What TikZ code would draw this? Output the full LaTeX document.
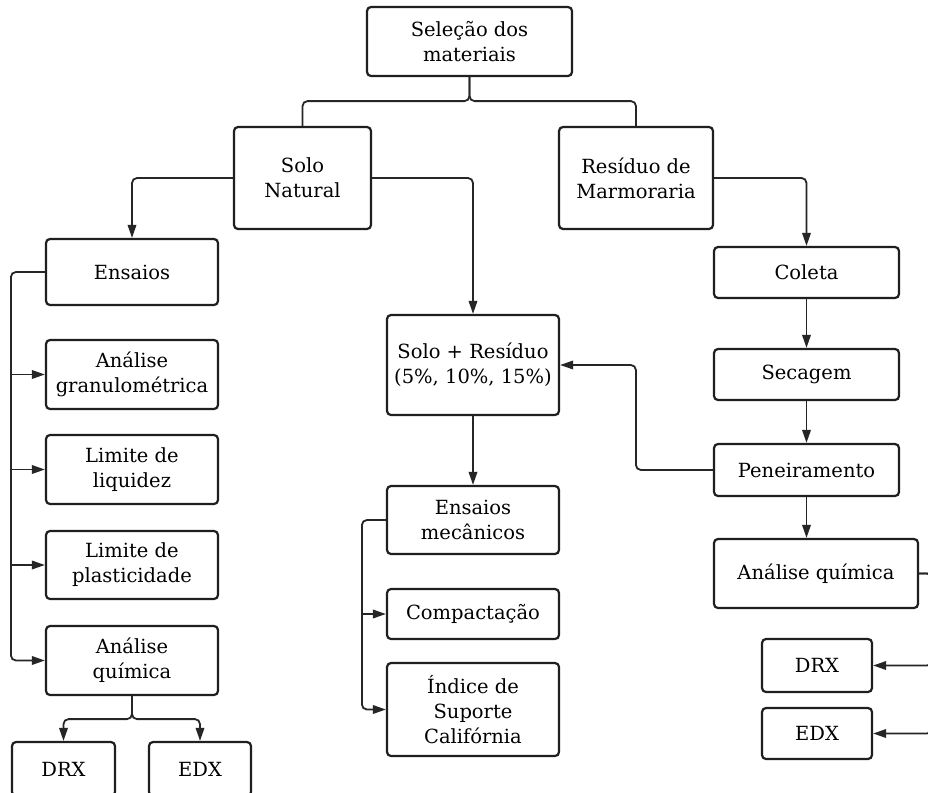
\documentclass[tikz,border=0pt]{standalone}
\usepackage{fontspec}
\setmainfont{DejaVu Serif}
\usepackage{tikz}
\usetikzlibrary{arrows.meta}
\usetikzlibrary{calc}
\newcommand{\MTLineWidth}{2.2pt}
\newcommand{\MTBox}[5]{
  \node [mtbox, minimum width=#3, minimum height=#4] (#1) at #2 {#5};
}
\newcommand{\MTArrow}[2]{
  \draw [mtline, -{Triangle[length=13pt,width=8.5pt]}] #1 #2;
}
\newcommand{\MTLink}[2]{
  \draw [mtline] #1 #2;
}

\begin{document}
\begin{tikzpicture}[x=1pt,y=-1pt,
  mtbox/.style={draw=black!88, line width=\MTLineWidth, rounded corners=4pt,
    align=center, inner sep=2pt, text=black,
    font=\fontsize{19.5}{25}\selectfont},
  mtline/.style={draw=black!85, line width=1.8pt, rounded corners=5pt}]
\useasboundingbox [fill=white] (0,0) rectangle (928,792);

\MTBox{sel}{(469.5,41.5)}{205pt}{69pt}{Seleção dos\\materiais}
\MTBox{solo}{(302.5,178)}{137pt}{102pt}{Solo\\Natural}
\MTBox{res}{(636,178)}{154pt}{102pt}{Resíduo de\\Marmoraria}

% solo natural
\MTBox{ens}{(132,272)}{172pt}{66pt}{Ensaios}
\MTBox{gran}{(132,374.5)}{172pt}{69pt}{Análise\\granulométrica}
\MTBox{liq}{(132,469.5)}{172pt}{69pt}{Limite de\\liquidez}
\MTBox{plas}{(132,565)}{172pt}{68pt}{Limite de\\plasticidade}
\MTBox{aqL}{(132,660.5)}{172pt}{69pt}{Análise\\química}
\MTBox{drxL}{(63.5,769)}{103pt}{54pt}{DRX}
\MTBox{edxL}{(200,769)}{102pt}{54pt}{EDX}

% mistura
\MTBox{mix}{(473,365)}{172pt}{100pt}{Solo + Resíduo\\(5\%, 10\%, 15\%)}
\MTBox{mec}{(473,520)}{172pt}{68pt}{Ensaios\\mecânicos}
\MTBox{comp}{(473,614)}{172pt}{50pt}{Compactação}
\MTBox{isc}{(473,709.5)}{172pt}{93pt}{Índice de\\Suporte\\Califórnia}

% residuo
\MTBox{col}{(806.5,272.5)}{185pt}{51pt}{Coleta}
\MTBox{sec}{(806.5,374.5)}{185pt}{51pt}{Secagem}
\MTBox{pen}{(806.5,470)}{185pt}{52pt}{Peneiramento}
\MTBox{aqR}{(816,573.5)}{204pt}{69pt}{Análise química}
\MTBox{drxR}{(817,665.5)}{110pt}{53pt}{DRX}
\MTBox{edxR}{(817,733.5)}{110pt}{51pt}{EDX}

\coordinate (ensT) at ($(ens.west) +(-34,0)$);
\coordinate (mecT) at ($(mec.west) +(-24,0)$);

\MTLink{(sel.south) -- ++(0,24)}{-| (solo.north)}
\MTLink{(sel.south) -- ++(0,24)}{-| (res.north)}
\MTArrow{(solo.west)}{-| (ens.north)}
\MTArrow{(solo.east)}{-| (mix.north)}
\MTArrow{(res.east)}{-| (col.north)}

\MTArrow{(ens.west) -- (ensT)}{|- (aqL.west)}
\MTArrow{(ensT |- gran.west)}{-- (gran.west)}
\MTArrow{(ensT |- liq.west)}{-- (liq.west)}
\MTArrow{(ensT |- plas.west)}{-- (plas.west)}
\MTArrow{(aqL.south) -- ++(0,23)}{-| (drxL.north)}
\MTArrow{(aqL.south) -- ++(0,23)}{-| (edxL.north)}

\MTArrow{(mix.south)}{-- (mec.north)}
\MTArrow{(mec.west) -- (mecT)}{|- (isc.west)}
\MTArrow{(mecT |- comp.west)}{-- (comp.west)}

\MTArrow{(col.south)}{-- (sec.north)}
\MTArrow{(sec.south)}{-- (pen.north)}
\MTArrow{(pen.south)}{-- (pen.south |- aqR.north)}
\MTArrow{(pen.west) -- ++(-77,0)}{|- (mix.east)}
\MTArrow{(aqR.east) -- ++(13,0)}{|- (drxR.east)}
\MTArrow{(aqR.east) -- ++(13,0)}{|- (edxR.east)}
\end{tikzpicture}
\end{document}
